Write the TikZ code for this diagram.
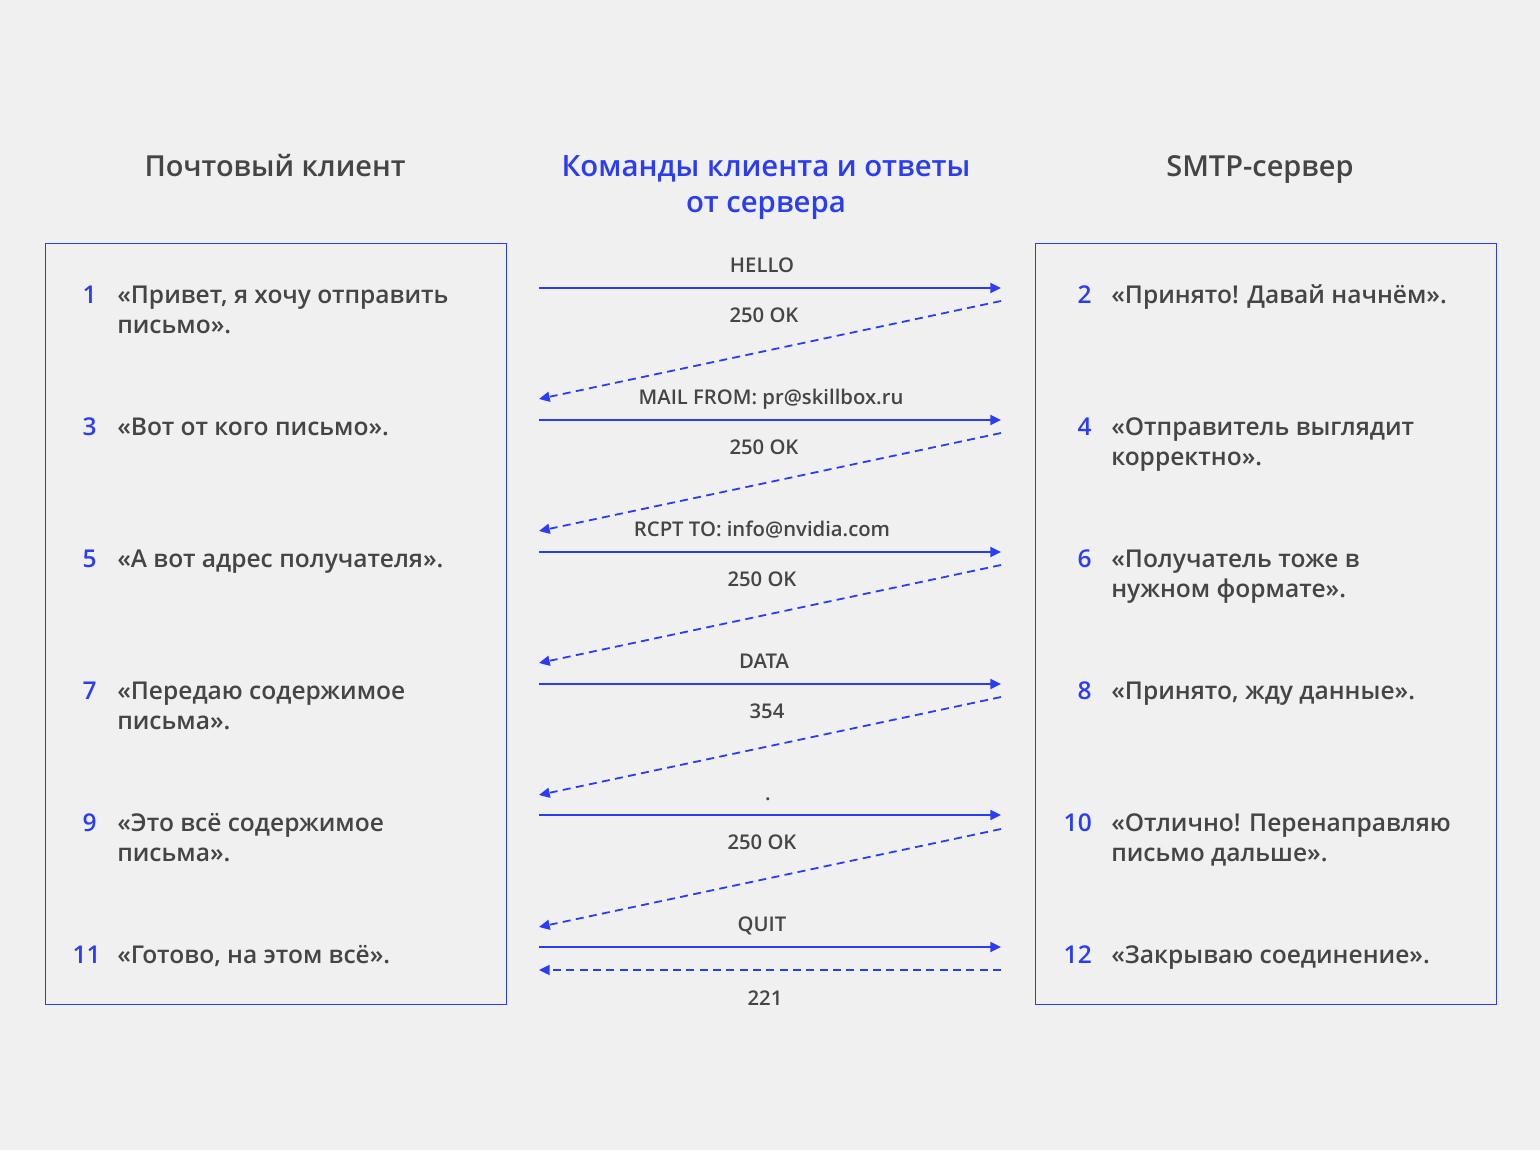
\documentclass[tikz,border=0pt]{standalone}
\usepackage{fontspec}
\IfFontExistsTF{Noto Sans SemiBold}{\setmainfont{Noto Sans SemiBold}}{%
  \IfFontExistsTF{Open Sans Semibold}{\setmainfont{Open Sans Semibold}}{%
    \setmainfont{Open Sans}[FakeBold=2.5]}}
\usetikzlibrary{arrows.meta}
\definecolor{bg}{HTML}{F0F0F0}
\definecolor{blu}{HTML}{2B3DF2}
\definecolor{txt}{HTML}{454545}
\tikzset{
  title/.style={font=\fontsize{21.7pt}{27pt}\selectfont, text=txt, anchor=base, inner sep=0},
  btitle/.style={font=\fontsize{22pt}{27pt}\selectfont, text=blu, anchor=base, inner sep=0, align=center},
  panel/.style={draw=blu, line width=1pt},
  num/.style={font=\fontsize{18.4pt}{22.5pt}\selectfont, text=blu, anchor=base east, inner sep=0},
  item/.style={font=\fontsize{18.4pt}{22.5pt}\selectfont, text=txt, anchor=base west, inner sep=0, align=left},
  lbl/.style={font=\fontsize{15.2pt}{18pt}\selectfont, text=txt, anchor=base, inner sep=0},
  req/.style={draw=blu, line width=1.5pt, -{Triangle[length=8pt,width=7.5pt]}},
  resp/.style={draw=blu, line width=1.35pt, dash pattern=on 6pt off 4pt, -{Triangle[length=8pt,width=7.5pt]}},
}
\begin{document}
\begin{tikzpicture}[x=0.75pt,y=-0.75pt]
\fill[bg] (0,0) rectangle (1540,1150);
\useasboundingbox (0,0) rectangle (1540,1150);
% titles
\node[title] (tL) at (275,176) {Почтовый клиент};
\node[title] (tR) at (1260,176) {SMTP-сервер};
\node[btitle] (tM) at (766,212) {Команды клиента и ответы\\от сервера};
% panels
\node[panel, minimum width=461*0.75pt, minimum height=761*0.75pt, anchor=north west, inner sep=0] (pL) at (44.5,242.5) {};
\node[panel, minimum width=461*0.75pt, minimum height=761*0.75pt, anchor=north west, inner sep=0] (pR) at (1034.5,242.5) {};
% left items (base anchor = baseline of last line)
\node[num] (n1) at (97,303) {1};
\node[item] (i1) at (117,333) {«Привет, я хочу отправить\\письмо».};
\node[num] (n3) at (97,435) {3};
\node[item] (i3) at (117,435) {«Вот от кого письмо».};
\node[num] (n5) at (97,567) {5};
\node[item] (i5) at (117,567) {«А вот адрес получателя».};
\node[num] (n7) at (97,699) {7};
\node[item] (i7) at (117,729) {«Передаю содержимое\\письма».};
\node[num] (n9) at (97,831) {9};
\node[item] (i9) at (117,861) {«Это всё содержимое\\письма».};
\node[num] (n11) at (101,963) {11};
\node[item] (i11) at (117,963) {«Готово, на этом всё».};
% right items
\node[num] (n2) at (1092,303) {2};
\node[item] (i2) at (1111,303) {«Принято! Давай начнём».};
\node[num] (n4) at (1092,435) {4};
\node[item] (i4) at (1111,465) {«Отправитель выглядит\\корректно».};
\node[num] (n6) at (1092,567) {6};
\node[item] (i6) at (1111,597) {«Получатель тоже в\\нужном формате».};
\node[num] (n8) at (1092,699) {8};
\node[item] (i8) at (1111,699) {«Принято, жду данные».};
\node[num] (n10) at (1092,831) {10};
\node[item] (i10) at (1111,861) {«Отлично! Перенаправляю\\письмо дальше».};
\node[num] (n12) at (1092,963) {12};
\node[item] (i12) at (1111,963) {«Закрываю соединение».};
% arrow end points
\foreach \k/\y in {1/288,2/420,3/552,4/684,5/815,6/947}{
  \coordinate (qa\k) at (539,\y);
  \coordinate (qb\k) at (1001,\y);
}
\foreach \k/\ys/\ye in {1/301/399,2/433/531,3/565/663,4/697/795,5/829/927}{
  \coordinate (ra\k) at (1001,\ys);
  \coordinate (rb\k) at (539,\ye);
}
\coordinate (ra6) at (1001,970);
\coordinate (rb6) at (539,970);
% requests
\draw[req] (qa1) -- (qb1);
\draw[req] (qa2) -- (qb2);
\draw[req] (qa3) -- (qb3);
\draw[req] (qa4) -- (qb4);
\draw[req] (qa5) -- (qb5);
\draw[req] (qa6) -- (qb6);
% responses
\draw[resp] (ra1) -- (rb1);
\draw[resp] (ra2) -- (rb2);
\draw[resp] (ra3) -- (rb3);
\draw[resp] (ra4) -- (rb4);
\draw[resp] (ra5) -- (rb5);
\draw[resp] (ra6) -- (rb6);
% labels
\node[lbl] (l1) at (762,272) {HELLO};
\node[lbl] (l2) at (764,322) {250 OK};
\node[lbl] (l3) at (771,404) {MAIL FROM: pr@skillbox.ru};
\node[lbl] (l4) at (764,454) {250 OK};
\node[lbl] (l5) at (762,536) {RCPT TO: info@nvidia.com};
\node[lbl] (l6) at (762,586) {250 OK};
\node[lbl] (l7) at (764,668) {DATA};
\node[lbl] (l8) at (767,718) {354};
\node[lbl] (l9) at (768,800) {.};
\node[lbl] (l10) at (762,849) {250 OK};
\node[lbl] (l11) at (762,931) {QUIT};
\node[lbl] (l12) at (765,1005) {221};
\end{tikzpicture}
\end{document}
